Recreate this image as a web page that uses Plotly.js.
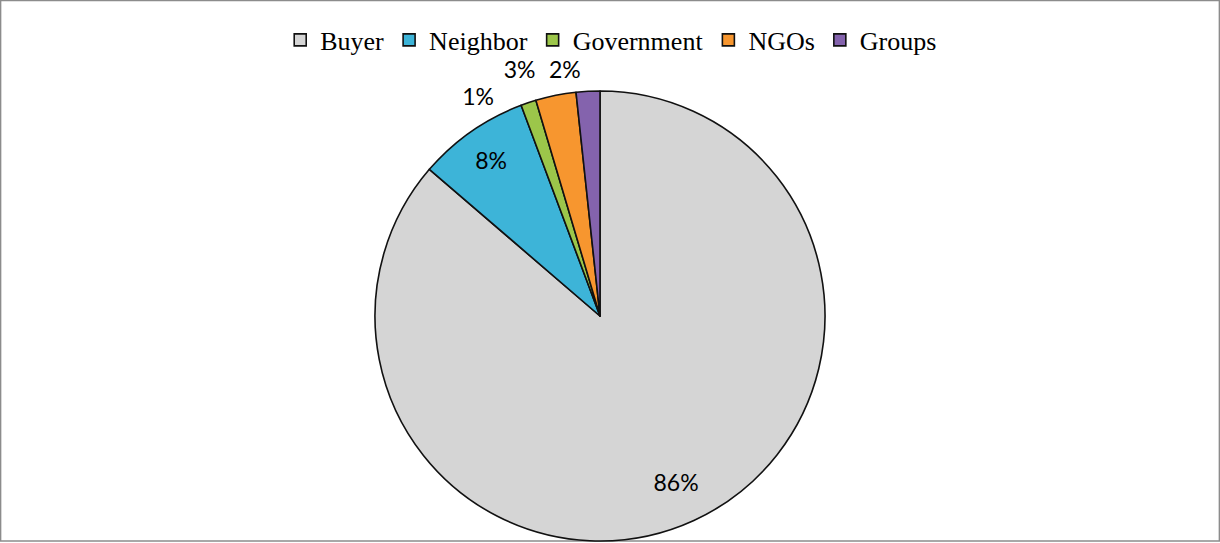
<!DOCTYPE html>
<html>
<head>
<meta charset="utf-8">
<script src="https://cdn.plot.ly/plotly-3.0.1.min.js"></script>
<style>
html,body{margin:0;padding:0;background:#fff;}
#chart{width:1220px;height:543px;}
</style>
</head>
<body>
<div id="chart"></div>
<script>
var categories = ["Buyer", "Neighbor", "Government", "NGOs", "Groups"];
var shares = [86.3, 8.0, 1.1, 2.9, 1.7];
var sliceColors = ["#d5d5d5", "#3db4d8", "#9cc64a", "#f7962f", "#8463ad"];

var W = 1220, H = 543;
var cx = 600, cy = 316, r = 225;
function domainFor(rad) {
  return {
    x: [(cx - rad) / W, (cx + rad) / W],
    y: [(H - (cy + rad)) / H, (H - (cy - rad)) / H]
  };
}
var labelFont = { family: "Lato, 'Liberation Sans', sans-serif", size: 23, color: "#000" };
var clear = categories.map(function () { return "rgba(0,0,0,0)"; });

function basePie(rad) {
  return {
    type: "pie",
    labels: categories,
    values: shares,
    sort: false,
    direction: "clockwise",
    rotation: 0,
    domain: domainFor(rad),
    texttemplate: "%{percent:.0%}",
    insidetextorientation: "horizontal",
    textfont: labelFont,
    insidetextfont: labelFont,
    outsidetextfont: labelFont,
    hoverinfo: "skip"
  };
}

// label layer: transparent copy of the pie that shows one slice's percentage
function labelLayer(name, pos, rad, hole, suffix) {
  var t = basePie(rad);
  t.marker = { colors: clear, line: { width: 0 } };
  t.hole = hole || 0;
  t.textposition = categories.map(function (c) { return c === name ? pos : "none"; });
  if (suffix) t.texttemplate = "%{percent:.0%}" + suffix;
  t.showlegend = false;
  return t;
}

// main filled pie
var main = basePie(r);
main.marker = { colors: sliceColors, line: { color: "#111", width: 1.6 } };
main.textposition = categories.map(function () { return "none"; });
main.showlegend = true;

var traces = [
  main,
  labelLayer("Buyer", "inside", r, 0.62),
  labelLayer("Neighbor", "inside", r, 0.69),
  labelLayer("Government", "outside", r - 6, 0, "\u00a0\u00a0\u00a0\u00a0\u00a0"),
  labelLayer("NGOs", "outside", r + 13, 0, "\u00a0\u00a0"),
  labelLayer("Groups", "outside", r + 8, 0)
];

var layout = {
  width: W,
  height: H,
  margin: { l: 0, r: 0, t: 0, b: 0 },
  paper_bgcolor: "#fff",
  plot_bgcolor: "#fff",
  showlegend: true,
  legend: {
    orientation: "h",
    x: 0.501,
    xanchor: "center",
    y: (H - 40) / H,
    yanchor: "middle",
    bgcolor: "rgba(0,0,0,0)",
    font: { family: "'Liberation Serif', 'Times New Roman', serif", size: 26, color: "#000" },
    itemwidth: 30,
    traceorder: "normal"
  },
  shapes: [{
    type: "rect",
    xref: "paper", yref: "paper",
    x0: 0.6 / W, x1: 1 - 0.6 / W,
    y0: (H - 541) / H, y1: 1 - 0.6 / H,
    line: { color: "#8c8c8c", width: 1.5 },
    layer: "below"
  }]
};

Plotly.newPlot("chart", traces, layout, { displayModeBar: false, staticPlot: true });
</script>
</body>
</html>
